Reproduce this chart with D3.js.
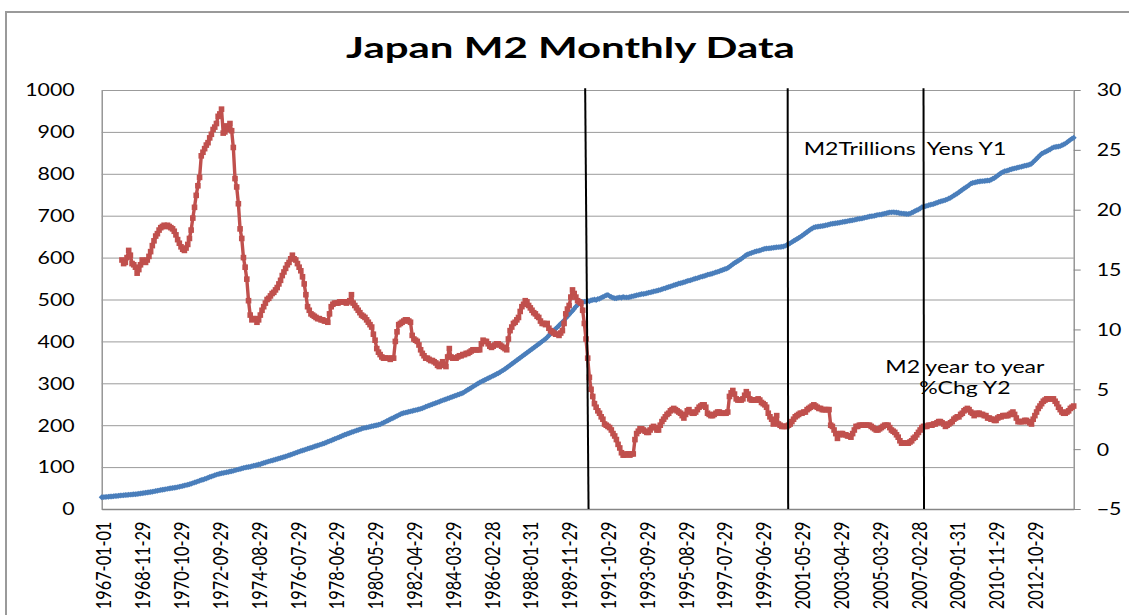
<!DOCTYPE html>
<html><head><meta charset="utf-8">
<script src="https://cdn.jsdelivr.net/npm/d3@7"></script>
<style>
html,body{margin:0;padding:0;background:#fff;}
svg{display:block;}
text{font-family:Lato,"Open Sans",sans-serif;fill:#000;}
</style></head><body>
<svg id="chart" width="1129" height="615"></svg>
<script>
// ---------------- DATA ----------------
const chartTitle = "Japan M2 Monthly Data";
const seriesNames = ["M2Trillions  Yens Y1", "M2 year to year", "%Chg Y2"];
const tickLabels = ["1967-01-01","1968-11-29","1970-10-29","1972-09-29","1974-08-29","1976-07-29",
  "1978-06-29","1980-05-29","1982-04-29","1984-03-29","1986-02-28","1988-01-31","1989-11-29",
  "1991-10-29","1993-09-29","1995-08-29","1997-07-29","1999-06-29","2001-05-29","2003-04-29",
  "2005-03-29","2007-02-28","2009-01-31","2010-11-29","2012-10-29"];
const tickEvery = 23;
const leftTicks = [0,100,200,300,400,500,600,700,800,900,1000];
const rightTicks = [-5,0,5,10,15,20,25,30];

// M2, trillions of yen, monthly from 1967-01 (one row per year)
const m2Trillions = [].concat(
 [28.0,28.3,28.6,29.0,29.3,29.7,30.0,30.4,30.8,31.2,31.6,32.1],
 [32.5,32.8,33.2,33.5,33.9,34.3,34.6,35.0,35.4,35.8,36.3,37.0],
 [37.5,38.0,38.6,39.2,39.9,40.6,41.3,42.0,42.8,43.6,44.5,45.4],
 [46.0,46.7,47.4,48.1,48.8,49.4,50.1,50.8,51.5,52.2,53.0,54.0],
 [55.0,56.0,57.0,58.0,59.0,60.4,61.8,63.2,64.6,66.0,67.5,69.0],
 [70.0,71.5,73.0,74.6,76.2,77.6,79.0,80.5,82.0,83.2,84.2,85.2],
 [86.0,86.8,87.6,88.5,89.4,90.2,91.0,92.2,93.4,94.5,95.6,96.8],
 [98.0,98.8,99.6,100.3,101.0,102.0,103.0,104.0,105.0,106.0,107.0,108.5],
 [110.0,111.2,112.4,113.6,114.8,115.9,117.0,118.2,119.4,120.6,121.8,122.9],
 [124.0,125.4,126.8,128.2,129.6,131.0,132.5,134.0,135.5,137.0,138.3,139.6],
 [141.0,142.3,143.6,145.0,146.3,147.6,149.0,150.3,151.6,153.0,154.3,155.6],
 [157.0,158.6,160.3,162.0,163.7,165.3,167.0,168.6,170.3,172.0,173.6,175.3],
 [177.0,178.5,180.0,181.5,183.0,184.4,185.8,187.2,188.6,190.0,191.5,193.0],
 [193.6,194.5,195.4,196.3,197.3,198.2,199.1,200.0,200.9,202.0,204.0,206.0],
 [208.0,210.0,212.0,214.0,216.0,218.0,220.0,222.0,224.0,226.0,228.0,229.0],
 [230.0,231.0,232.0,233.0,234.0,235.0,236.0,237.0,238.0,239.0,240.5,242.0],
 [244.0,245.5,247.0,248.5,250.0,251.5,253.0,254.5,256.0,257.6,259.2,260.8],
 [262.0,263.5,265.0,266.5,268.0,269.5,271.0,272.5,274.0,275.5,277.0,279.5],
 [282.0,284.5,287.0,289.5,292.0,294.5,297.0,299.5,302.0,304.0,306.0,308.0],
 [310.0,312.0,314.0,316.0,318.0,320.0,322.0,324.0,326.5,329.0,331.5,334.0],
 [337.0,340.0,343.0,346.0,349.0,352.0,355.0,358.0,361.0,364.0,367.0,370.0],
 [373.0,376.0,379.0,382.0,385.0,388.0,391.0,394.0,397.0,400.0,403.0,406.0],
 [410.0,414.0,418.0,422.0,426.0,430.0,434.0,438.0,442.0,446.0,450.0,455.0],
 [460.0,464.0,469.0,473.0,478.0,483.0,487.0,491.0,495.0,494.0,495.0,495.0],
 [497.0,496.0,498.0,499.0,500.0,499.0,501.0,502.0,504.0,506.0,508.0,510.0],
 [511.0,508.0,506.0,504.0,503.0,503.0,504.0,505.0,504.0,506.0,505.0,505.0],
 [505.0,506.0,507.0,508.0,509.0,510.0,511.0,512.0,513.0,513.0,514.0,515.0],
 [516.0,517.0,518.0,519.0,520.0,521.0,522.0,523.0,524.5,526.0,527.0,528.5],
 [530.0,531.0,532.5,534.0,535.0,536.5,538.0,539.0,540.0,541.0,542.5,544.0],
 [545.0,546.0,547.5,549.0,550.0,551.0,552.5,554.0,555.0,556.0,557.5,559.0],
 [560.0,561.0,562.0,563.5,565.0,566.0,567.5,569.0,570.5,572.0,573.5,575.0],
 [578.0,581.0,584.0,587.0,589.5,592.0,594.5,597.0,600.0,603.0,606.0,608.0],
 [609.5,611.0,612.5,614.0,615.0,616.0,617.0,618.5,620.0,621.0,621.5,622.0],
 [622.5,623.0,623.5,624.0,624.5,625.0,625.5,626.0,626.5,628.0,630.0,632.0],
 [634.5,637.0,639.5,642.0,644.5,647.0,649.5,652.0,655.0,658.0,661.0,664.0],
 [667.0,669.5,672.0,673.0,673.5,674.0,675.0,675.5,676.0,677.0,678.0,679.0],
 [680.0,681.0,681.5,682.0,682.5,683.0,684.0,685.0,685.5,686.0,687.0,688.0],
 [688.5,689.0,690.0,691.0,692.0,692.5,693.0,694.0,695.0,696.0,697.0,698.0],
 [698.5,699.0,700.0,701.0,702.0,702.5,703.0,704.0,705.0,706.0,707.0,708.0],
 [708.0,708.5,708.0,707.5,707.0,706.0,705.5,705.0,704.5,704.0,704.0,705.0],
 [707.0,709.0,711.0,713.0,715.0,717.0,720.0,721.5,722.5,723.5,725.0,726.0],
 [727.0,728.0,729.5,731.0,732.5,734.0,735.0,736.0,737.5,739.0,741.0,743.0],
 [745.5,748.0,750.5,753.0,756.0,759.0,762.0,765.0,767.5,770.0,773.0,776.5],
 [778.0,779.0,780.0,781.0,781.5,782.0,782.5,783.0,783.5,784.0,784.0,786.0],
 [788.0,790.0,793.0,796.0,799.0,802.0,804.0,806.0,807.0,808.0,809.5,811.0],
 [812.0,813.0,814.0,815.0,816.0,817.0,818.0,819.0,820.0,821.0,822.0,824.0],
 [828.0,832.0,836.0,840.0,844.0,848.0,850.0,852.0,854.0,856.0,858.0,861.0],
 [863.0,864.0,864.5,865.0,866.0,868.0,870.0,872.0,875.0,878.0,881.0,884.0],
 [886.0]
);

// M2 year-to-year % change, monthly from 1968-01 (category index 12)
const yoyStartIndex = 12;
const m2YoYPct = [].concat(
 [15.8,15.5,15.6,16.0,16.6,16.2,15.5,15.4,15.2,14.7,15.0,15.4],
 [15.8,15.7,15.6,15.8,16.1,16.5,17.0,17.4,17.8,18.0,18.3,18.5],
 [18.6,18.7,18.6,18.7,18.6,18.5,18.4,18.2,17.9,17.5,17.2,16.9],
 [16.7,16.6,16.8,17.1,17.6,18.3,19.3,20.2,21.2,22.0,22.7,24.5],
 [24.8,25.1,25.4,25.6,26.0,26.3,26.7,26.9,27.2,27.8,28.0,28.4],
 [26.4,26.5,27.0,26.7,27.2,26.6,25.2,22.6,21.9,20.5,18.4,17.6],
 [16.0,15.2,14.2,12.4,11.2,10.8,10.9,10.9,10.6,10.8,11.2,11.6],
 [11.9,12.2,12.5,12.6,12.8,13.0,13.1,13.3,13.5,13.8,14.1,14.5],
 [14.8,15.1,15.4,15.6,15.9,16.2,15.9,15.8,15.5,15.2,14.9,14.4],
 [13.8,12.9,11.9,11.6,11.3,11.2,11.1,11.0,10.9,10.9,10.8,10.8],
 [10.7,10.7,10.6,11.3,11.9,12.1,12.2,12.2,12.2,12.3,12.3,12.3],
 [12.3,12.2,12.3,12.4,12.9,12.2,12.0,11.8,11.6,11.4,11.2,11.1],
 [11.0,10.8,10.6,10.4,10.2,9.6,9.1,8.4,8.1,7.9,7.7,7.6],
 [7.6,7.6,7.6,7.5,7.6,7.6,9.0,9.8,10.4,10.5,10.6,10.7],
 [10.8,10.8,10.7,10.6,9.5,9.2,9.1,9.0,8.7,8.3,8.0,7.8],
 [7.6,7.6,7.5,7.4,7.4,7.3,7.2,7.0,6.9,7.1,7.3,7.0],
 [6.9,7.7,8.4,7.7,7.6,7.6,7.6,7.7,7.8,7.8,7.9,7.9],
 [8.0,8.0,8.1,8.2,8.3,8.3,8.3,8.3,8.3,8.8,9.1,9.0],
 [9.0,8.8,8.6,8.5,8.6,8.7,8.8,8.8,8.7,8.6,8.5,8.4],
 [8.3,9.2,9.9,10.2,10.5,10.6,10.8,11.0,11.5,11.9,12.1,12.4],
 [12.3,12.0,11.8,11.6,11.4,11.3,11.1,11.0,10.7,10.5,10.5,10.4],
 [10.5,10.1,9.9,9.8,9.7,9.6,9.6,9.5,9.7,9.9,10.5,11.3],
 [11.7,12.0,12.7,13.3,13.0,12.7,12.4,12.3,12.2,11.6,10.5,9.2],
 [7.6,6.0,5.0,4.4,3.8,3.5,3.2,3.0,2.7,2.5,2.1,2.0],
 [1.9,1.8,1.6,1.3,1.1,0.8,0.4,0.1,-0.3,-0.5,-0.5,-0.4],
 [-0.4,-0.5,-0.4,-0.4,0.8,1.3,1.5,1.7,1.7,1.6,1.5,1.4],
 [1.4,1.6,1.8,1.9,1.8,1.6,1.6,2.0,2.3,2.5,2.7,2.9],
 [3.0,3.2,3.3,3.4,3.3,3.2,3.1,3.0,2.8,2.6,2.9,3.2],
 [3.3,3.1,3.0,3.0,3.1,3.3,3.5,3.6,3.7,3.7,3.5,3.0],
 [2.9,2.8,2.8,2.9,3.0,3.1,3.1,3.0,3.0,3.0,3.0,3.1],
 [4.4,4.7,4.9,4.6,4.2,4.1,4.1,4.1,4.2,4.5,4.8,4.6],
 [4.2,4.1,4.1,4.1,4.1,4.2,4.1,3.9,3.8,3.7,3.5,3.0],
 [2.7,2.5,2.1,2.4,2.8,2.1,2.0,1.9,1.9,1.9,1.9,2.0],
 [2.1,2.3,2.5,2.7,2.8,2.9,3.0,3.0,3.1,3.1,3.3,3.4],
 [3.5,3.6,3.7,3.6,3.5,3.4,3.4,3.3,3.3,3.3,3.3,3.3],
 [2.0,1.9,1.6,1.3,0.9,1.2,1.3,1.3,1.2,1.2,1.1,1.1],
 [1.0,1.3,1.6,1.9,1.9,2.0,2.0,2.0,2.0,2.0,2.0,2.0],
 [1.9,1.8,1.7,1.6,1.6,1.7,1.8,1.9,2.0,2.0,2.0,1.8],
 [1.6,1.5,1.4,1.2,1.0,0.7,0.5,0.5,0.5,0.5,0.5,0.6],
 [0.7,0.9,1.0,1.2,1.4,1.6,1.8,1.9,1.9,1.9,2.0,2.0],
 [2.0,2.1,2.1,2.2,2.3,2.3,2.2,2.1,1.9,2.0,2.1,2.2],
 [2.3,2.5,2.6,2.7,2.7,2.9,3.0,3.2,3.3,3.4,3.3,3.1],
 [3.0,2.8,2.9,3.0,3.0,2.9,2.9,2.8,2.8,2.6,2.6,2.5],
 [2.5,2.4,2.4,2.6,2.7,2.7,2.8,2.8,2.8,2.8,2.9,3.0],
 [3.1,2.9,2.6,2.3,2.3,2.3,2.3,2.4,2.4,2.3,2.2,2.1],
 [2.5,2.8,3.1,3.4,3.6,3.8,4.0,4.1,4.2,4.2,4.2,4.2],
 [4.2,4.0,3.8,3.5,3.3,3.1,3.0,3.0,3.1,3.2,3.4,3.5],
 [3.6]
);

// Hand-drawn vertical marker lines (category index at top and bottom)
const markerTop = [286.5, 406.5, 487];
const markerBottom = [288.5, 406.8, 487.3];

// ---------------- DRAW ----------------
const W = 1129, H = 615;
const plot = {left: 101.7, right: 1073.7, top: 90, bottom: 509};
const SX = 1.31;       // horizontal stretch of the original picture's text
const FS = 16.3;       // tick font size
const FSA = 17.6;      // annotation font size

const svg = d3.select("#chart");
svg.append("rect").attr("width", W).attr("height", H).attr("fill", "#fff");
// chart area border (cut by the picture edge at right/bottom)
svg.append("rect").attr("x", 6).attr("y", 12).attr("width", W + 20).attr("height", H + 20)
  .attr("fill", "none").attr("stroke", "#9a9a9a").attr("stroke-width", 2);

const N = m2Trillions.length;
const x = d3.scaleLinear().domain([0, N - 1]).range([plot.left, plot.right]);
const yL = d3.scaleLinear().domain([0, 1000]).range([plot.bottom, plot.top]);
const yR = d3.scaleLinear().domain([-5, 30]).range([plot.bottom, plot.top]);

// Left axis with gridlines
const gL = svg.append("g").attr("transform", `translate(${plot.left},0)`)
  .call(d3.axisLeft(yL).tickValues(leftTicks).tickSizeInner(-(plot.right - plot.left))
        .tickSizeOuter(0).tickPadding(27).tickFormat(d3.format("d")));
gL.select(".domain").attr("stroke", "#868686").attr("stroke-width", 1.3);
gL.selectAll(".tick line").attr("stroke", "#9b9b9b").attr("stroke-width", 1);
gL.selectAll(".tick text").each(function () {
  const t = d3.select(this); const tx = +t.attr("x");
  t.attr("x", 0).attr("dy", null).attr("y", 0)
   .attr("transform", `translate(${tx},${0.36 * FS}) scale(${SX},1)`)
   .style("font-size", FS + "px").style("font-family", "Lato").attr("fill", "#000");
});

// Right axis
const gR = svg.append("g").attr("transform", `translate(${plot.right},0)`)
  .call(d3.axisRight(yR).tickValues(rightTicks).tickSizeInner(7).tickSizeOuter(0).tickPadding(16));
gR.select(".domain").attr("stroke", "#868686").attr("stroke-width", 1.3);
gR.selectAll(".tick line").attr("stroke", "#868686");
gR.selectAll(".tick text").each(function () {
  const t = d3.select(this); const tx = +t.attr("x");
  t.attr("x", 0).attr("dy", null).attr("y", 0)
   .attr("transform", `translate(${tx},${0.36 * FS}) scale(${SX},1)`)
   .style("font-size", FS + "px").style("font-family", "Lato").attr("fill", "#000");
});

// Bottom axis
const tickIdx = tickLabels.map((d, k) => k * tickEvery);
const gB = svg.append("g").attr("transform", `translate(0,${plot.bottom})`)
  .call(d3.axisBottom(x).tickValues(tickIdx).tickSize(0).tickFormat((d, k) => tickLabels[k]));
gB.select(".domain").attr("stroke", "#868686").attr("stroke-width", 1.5);
gB.selectAll(".tick text").each(function () {
  d3.select(this).attr("x", 0).attr("y", 0).attr("dy", null)
    .attr("text-anchor", "end")
    .attr("transform", `translate(${1.6 + 0.36 * FS * SX},12.5) scale(${SX},1) rotate(-90)`)
    .style("font-size", FS + "px").style("font-family", "Lato").attr("fill", "#000");
});

// Blue series (M2 level, left axis)
const blue = "#4a7ebb", red = "#c0504d";
const lineL = d3.line().x((d, i) => x(i)).y(d => yL(d));
svg.append("path").datum(m2Trillions).attr("d", lineL)
  .attr("fill", "none").attr("stroke", blue).attr("stroke-width", 3).attr("stroke-linejoin", "round");
svg.append("g").selectAll("rect").data(m2Trillions).join("rect")
  .attr("x", -2.1).attr("y", -2.1).attr("width", 4.2).attr("height", 4.2)
  .attr("transform", (d, i) => `translate(${x(i)},${yL(d)}) rotate(45)`)
  .attr("fill", blue);

// Red series (YoY %, right axis)
const redPts = m2YoYPct.map((v, k) => ({i: k + yoyStartIndex, v}));
const lineR = d3.line().x(d => x(d.i)).y(d => yR(d.v));
svg.append("path").datum(redPts).attr("d", lineR)
  .attr("fill", "none").attr("stroke", red).attr("stroke-width", 3.4).attr("stroke-linejoin", "round");
svg.append("g").selectAll("rect").data(redPts).join("rect")
  .attr("x", d => x(d.i) - 2.8).attr("y", d => yR(d.v) - 2.8)
  .attr("width", 5.6).attr("height", 5.6).attr("fill", red);

// Vertical black marker lines
svg.append("g").selectAll("line").data(markerTop).join("line")
  .attr("x1", d => x(d)).attr("y1", yL(1004))
  .attr("x2", (d, k) => x(markerBottom[k])).attr("y2", yL(0))
  .attr("stroke", "#000").attr("stroke-width", 2);

// Title
const title = svg.append("text").attr("text-anchor", "middle")
  .style("font-family", "Lato").style("font-weight", "bold").style("font-size", "29px")
  .text(chartTitle);
const tw = title.node().getComputedTextLength();
const tsx = 449 / tw;
title.attr("transform", `translate(570.5,58) scale(${tsx},1)`);

// Series annotations
function ann(txt, px, py, anchor) {
  svg.append("text").attr("text-anchor", anchor).attr("xml:space", "preserve")
    .style("white-space", "pre")
    .style("font-family", "Lato").style("font-size", FSA + "px")
    .attr("transform", `translate(${px},${py}) scale(${SX},1)`).text(txt);
}
ann(seriesNames[0], x(416), yL(845), "start");
ann(seriesNames[1], x(511.5), yR(6.4), "middle");
ann(seriesNames[2], x(511.5), yR(4.57), "middle");
</script>
</body></html>
